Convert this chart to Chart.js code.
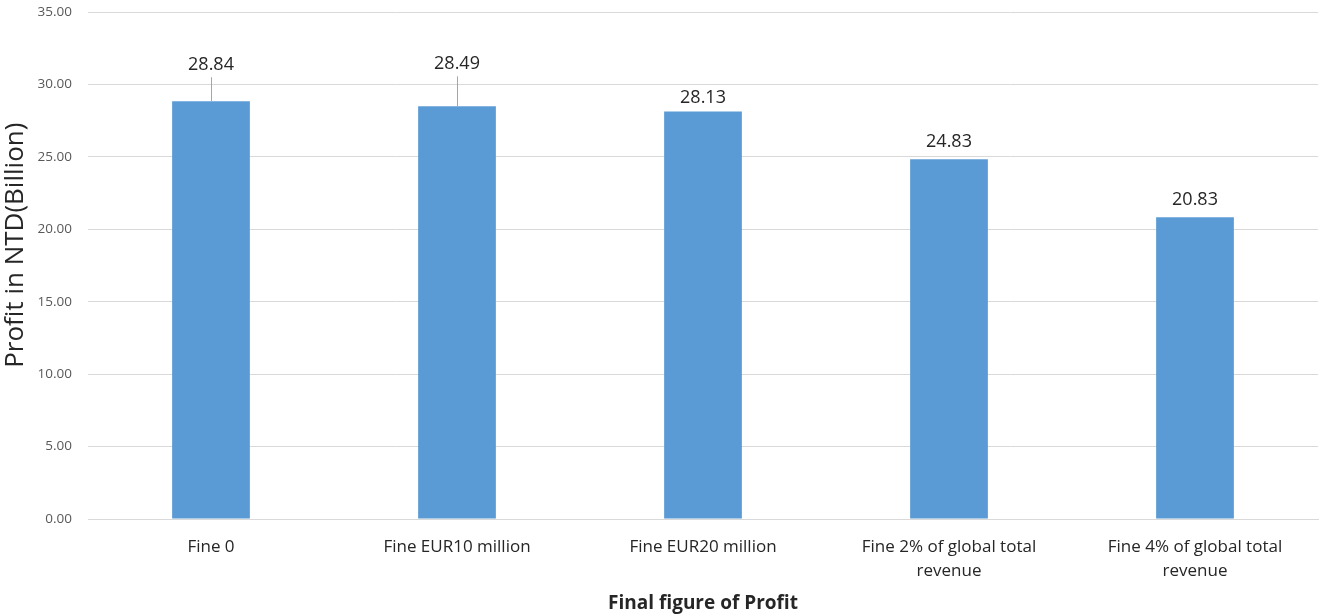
<!DOCTYPE html>
<html>
<head>
<meta charset="utf-8">
<script src="https://cdn.jsdelivr.net/npm/chart.js@4/dist/chart.umd.min.js"></script>
<style>
  html, body { margin: 0; padding: 0; background: #fff; }
  #wrap { width: 1320px; height: 615px; position: relative; }
</style>
</head>
<body>
<div id="wrap"><canvas id="chart"></canvas></div>
<script>
// ---------------------------------------------------------------------------
//  Daten
// ---------------------------------------------------------------------------
const categories = [
    "Fine 0",
    "Fine EUR10 million",
    "Fine EUR20 million",
    ["Fine 2% of global total", "revenue"],
    ["Fine 4% of global total", "revenue"]
];
const profitValues = [28.84, 28.49, 28.13, 24.83, 20.83];
const yTicks = { min: 0, max: 35, step: 5 };

const FONT = "'Open Sans', 'Noto Sans', sans-serif";

// ---------------------------------------------------------------------------
//  Datenbeschriftung mit Führungslinien (wie in Excel)
// ---------------------------------------------------------------------------
const valueLabels = {
    id: "valueLabels",
    afterDatasetsDraw(chart, args, opts) {
        const ctx = chart.ctx;
        const meta = chart.getDatasetMeta(0);
        ctx.save();
        ctx.font = "18px " + FONT;
        ctx.fillStyle = "#262626";
        ctx.textAlign = "center";
        ctx.textBaseline = "middle";
        meta.data.forEach((bar, i) => {
            const lift = opts.lift[i];
            const ly = bar.y - lift;
            ctx.fillText(profitValues[i].toFixed(2), bar.x, ly);
            if (lift > 25) {
                ctx.strokeStyle = "#a6a6a6";
                ctx.lineWidth = 1;
                ctx.beginPath();
                ctx.moveTo(Math.round(bar.x) + 0.5, ly + 12);
                ctx.lineTo(Math.round(bar.x) + 0.5, bar.y);
                ctx.stroke();
            }
        });
        ctx.restore();
    }
};

new Chart(document.getElementById("chart"), {
    type: "bar",
    data: {
        labels: categories,
        datasets: [{
            data: profitValues,
            backgroundColor: "#5b9bd5",
            borderWidth: 0,
            barPercentage: 0.316,
            categoryPercentage: 1.0
        }]
    },
    options: {
        responsive: true,
        maintainAspectRatio: false,
        animation: false,
        layout: { padding: { top: 0, right: 2, left: 0, bottom: 0 } },
        plugins: {
            legend: { display: false },
            tooltip: { enabled: false },
            valueLabels: { lift: [36, 42, 14, 17, 17] }
        },
        scales: {
            x: {
                grid: { display: false },
                border: { display: true, color: "#d9d9d9" },
                ticks: {
                    color: "#262626",
                    font: { family: FONT, size: 17, lineHeight: 1.4 },
                    padding: 8,
                    maxRotation: 0,
                    autoSkip: false
                },
                title: {
                    display: true,
                    text: "Final figure of Profit",
                    color: "#262626",
                    font: { family: FONT, size: 19, weight: "bold" },
                    padding: { top: 8, bottom: 0 }
                },
                afterFit(scale) { scale.height = 96; }
            },
            y: {
                min: yTicks.min,
                max: yTicks.max,
                ticks: {
                    stepSize: yTicks.step,
                    color: "#595959",
                    font: { family: FONT, size: 13.5 },
                    padding: 16,
                    callback: v => v.toFixed(2)
                },
                grid: { color: "#d9d9d9", drawTicks: false },
                border: { display: false },
                title: {
                    display: true,
                    // führende Leerzeichen schieben den Titel etwas nach oben (wie im Original)
                    text: "      Profit in NTD(Billion)",
                    color: "#262626",
                    font: { family: FONT, size: 26 },
                    padding: { top: 0, bottom: 2 }
                },
                afterFit(scale) {
                    scale.width = 88;
                    scale.paddingTop = 12;
                }
            }
        }
    },
    plugins: [valueLabels]
});
</script>
</body>
</html>
